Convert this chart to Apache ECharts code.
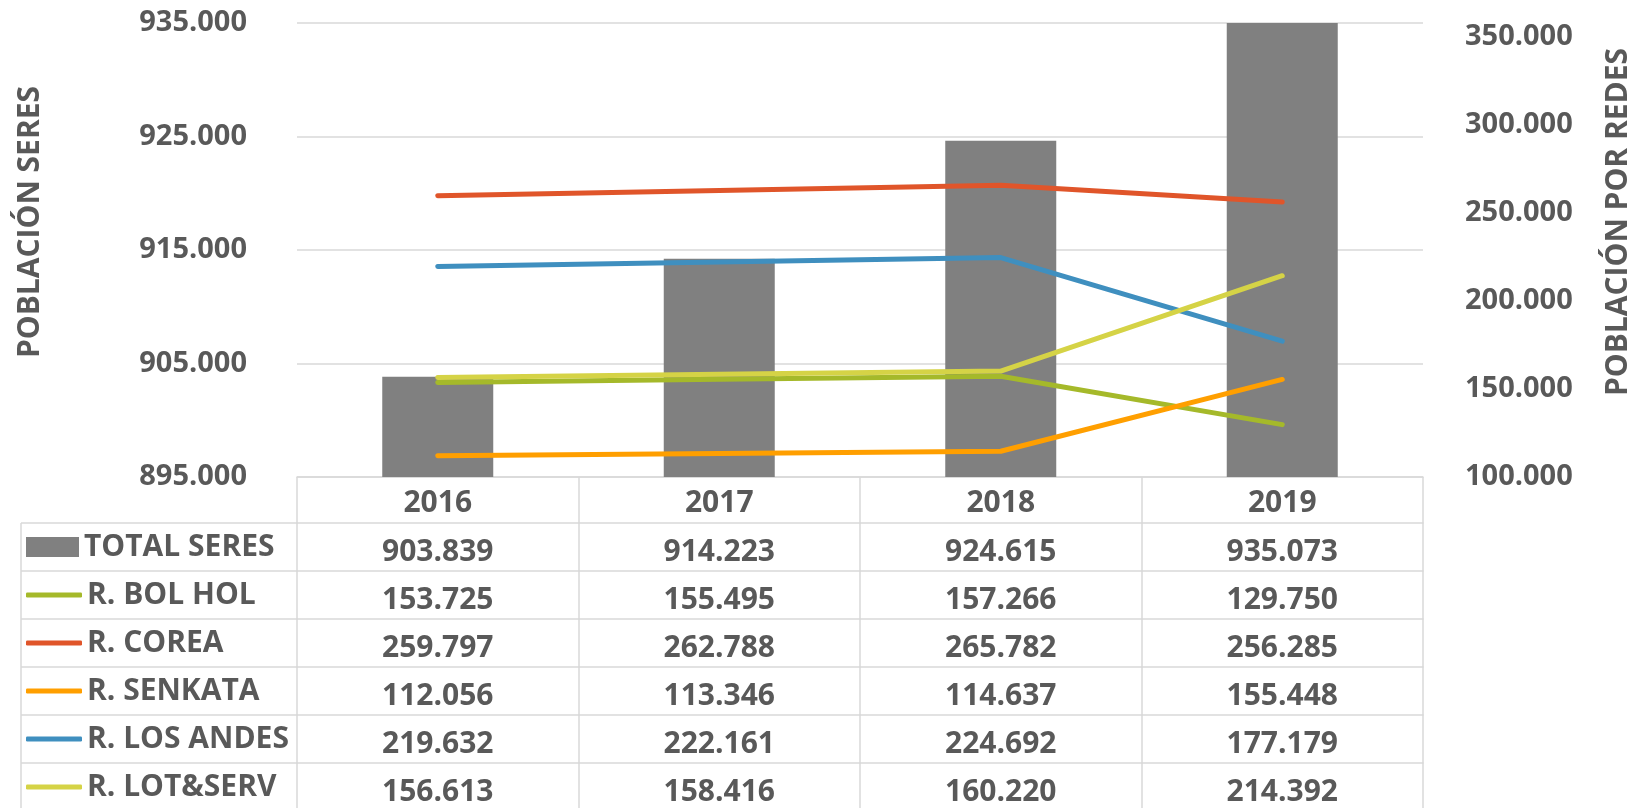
<!DOCTYPE html>
<html>
<head>
<meta charset="utf-8">
<script src="https://cdn.jsdelivr.net/npm/echarts@6/dist/echarts.min.js"></script>
<style>
  html, body { margin: 0; padding: 0; background: #fff; }
  #chart { width: 1631px; height: 808px; }
</style>
</head>
<body>
<div id="chart"></div>
<script>
const years = ['2016', '2017', '2018', '2019'];
const totalSeres = [903839, 914223, 924615, 935073];
const bolHol = [153725, 155495, 157266, 129750];
const corea = [259797, 262788, 265782, 256285];
const senkata = [112056, 113346, 114637, 155448];
const losAndes = [219632, 222161, 224692, 177179];
const lotServ = [156613, 158416, 160220, 214392];

const leftTicks = [895000, 935000, 10000];
const rightTicks = [100000, 358000, 50000];

const font = '"Open Sans", sans-serif';
const textColor = '#595959';
const gridColor = '#d9d9d9';

// numbers written with a dot as thousands separator
const fmt = v => String(v).replace(/\B(?=(\d{3})+(?!\d))/g, '.');

const rows = [
  { name: 'TOTAL SERES', data: totalSeres, color: '#808080', type: 'bar' },
  { name: 'R. BOL HOL', data: bolHol, color: '#a5b92a', type: 'line' },
  { name: 'R. COREA', data: corea, color: '#e0552a', type: 'line' },
  { name: 'R. SENKATA', data: senkata, color: '#ff9f00', type: 'line' },
  { name: 'R. LOS ANDES', data: losAndes, color: '#3f8fbf', type: 'line' },
  { name: 'R. LOT&SERV', data: lotServ, color: '#d5d346', type: 'line' },
];

const gridLeft = 297, gridRight = 1423, gridTop = 23, gridBottom = 477;
const headH = 46, rowH = 48;

const labelStyle = { fontSize: 30, fontWeight: 700, color: textColor, fontFamily: font };

// one category axis per table row under the plot
const tableAxes = rows.map((r, i) => ({
  type: 'category',
  gridIndex: 0,
  position: 'bottom',
  offset: headH + rowH * i,
  data: r.data.map(fmt),
  axisLine: { show: true, lineStyle: { color: gridColor, width: 1.5 } },
  axisTick: { show: true, length: rowH, interval: 0, lineStyle: { color: gridColor, width: 1.5 } },
  axisLabel: Object.assign({ margin: 14, interval: 0 }, labelStyle),
}));

const seriesList = rows.map((r, i) => r.type === 'bar'
  ? { name: r.name, type: 'bar', xAxisIndex: 0, yAxisIndex: 0, data: r.data, barWidth: 111,
      itemStyle: { color: r.color }, clip: true, z: 1 }
  : { name: r.name, type: 'line', xAxisIndex: 0, yAxisIndex: 1, data: r.data, symbol: 'none',
      itemStyle: { color: r.color }, lineStyle: { color: r.color, width: 5, cap: 'round' }, z: 2 + i });

// left column borders of the table
const tableTop = gridBottom + headH;
const leftCol = [];
for (let i = 0; i <= rows.length; i++) {
  leftCol.push({ type: 'line', shape: { x1: 21, y1: tableTop + rowH * i, x2: gridLeft, y2: tableTop + rowH * i },
    style: { stroke: gridColor, lineWidth: 1.5 } });
}
leftCol.push({ type: 'line', shape: { x1: 21, y1: tableTop, x2: 21, y2: 808 }, style: { stroke: gridColor, lineWidth: 1.5 } });

const legendText = { fontSize: 30, fontWeight: 700, color: textColor, fontFamily: font, lineHeight: 32 };

const chart = echarts.init(document.getElementById('chart'), null, { renderer: 'canvas' });

chart.setOption({
  animation: false,
  textStyle: { fontFamily: font },
  grid: {
    left: gridLeft, right: 1631 - gridRight, top: gridTop, bottom: 808 - gridBottom,
    containLabel: false, outerBoundsMode: 'none',
  },
  legend: [
    {
      orient: 'vertical',
      left: 26,
      top: tableTop + 8,
      padding: 0,
      itemWidth: 53,
      itemHeight: 20,
      icon: 'rect',
      selectedMode: false,
      textStyle: legendText,
      data: rows.filter(r => r.type === 'bar').map(r => r.name),
    },
    {
      orient: 'vertical',
      left: 26,
      top: tableTop + rowH + 8,
      padding: 0,
      itemWidth: 56,
      itemHeight: 5,
      itemGap: 16,
      icon: 'roundRect',
      selectedMode: false,
      textStyle: legendText,
      data: rows.filter(r => r.type === 'line').map(r => r.name),
    },
  ],
  xAxis: [
    {
      type: 'category',
      gridIndex: 0,
      position: 'bottom',
      data: years,
      axisLine: { show: true, lineStyle: { color: gridColor, width: 1.5 } },
      axisTick: { show: true, length: headH, interval: 0, lineStyle: { color: gridColor, width: 1.5 } },
      axisLabel: Object.assign({ margin: 11, interval: 0 }, labelStyle),
    },
    ...tableAxes,
  ],
  yAxis: [
    {
      type: 'value',
      min: leftTicks[0],
      max: leftTicks[1],
      interval: leftTicks[2],
      name: 'POBLACIÓN SERES',
      nameLocation: 'middle',
      nameRotate: 90,
      nameGap: 252,
      nameTextStyle: { fontSize: 30, fontWeight: 700, color: textColor, fontFamily: font, padding: [0, 0, 0, 56] },
      axisLine: { show: false },
      axisTick: { show: false },
      splitLine: { lineStyle: { color: gridColor, width: 1.5 } },
      axisLabel: { margin: 50, formatter: fmt, fontSize: 29, fontWeight: 700, color: textColor, fontFamily: font },
    },
    {
      type: 'value',
      min: rightTicks[0],
      max: rightTicks[1],
      interval: rightTicks[2],
      name: 'POBLACIÓN POR REDES',
      nameLocation: 'middle',
      nameRotate: 90,
      nameGap: 180,
      nameTextStyle: { fontSize: 30, fontWeight: 700, color: textColor, fontFamily: font, padding: [0, 0, 0, 56] },
      axisLine: { show: false },
      axisTick: { show: false },
      splitLine: { show: false },
      axisLabel: {
        margin: 42,
        padding: [6, 0, 0, 0],
        formatter: v => (v % rightTicks[2] === 0 ? fmt(v) : ''),
        fontSize: 29, fontWeight: 700, color: textColor, fontFamily: font,
      },
    },
  ],
  graphic: leftCol,
  series: seriesList,
});
</script>
</body>
</html>
